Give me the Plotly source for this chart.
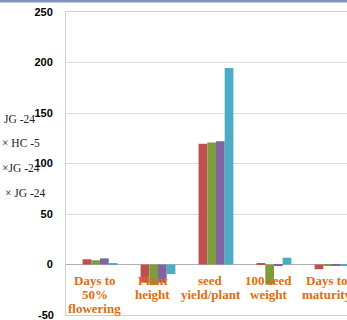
import plotly.graph_objects as go

# Trait categories (one label line per list entry)
categories = ["Days to 50% flowering", "Plant height", "seed yield/plant",
              "100 seed weight", "Days to maturity"]
category_lines = [["Days to", "50%", "flowering"], ["Plant", "height"],
                  ["seed", "yield/plant"], ["100 seed", "weight"],
                  ["Days to", "maturity"]]

# Cross labels (partly visible legend entries)
series_names = ["JG -24", "× HC -5", "×JG -24", "× JG -24"]

# Heterosis values (%) per cross
s1 = [5.2, -18.0, 119.5, 1.5, -4.7]
s2 = [4.2, -20.0, 120.8, -20.0, -0.8]
s3 = [6.1, -18.0, 122.0, -0.8, -0.8]
s4 = [1.0, -9.5, 194.5, 6.7, -0.8]
series_values = [s1, s2, s3, s4]
series_colors = ["#C0504D", "#7F9B3E", "#8064A2", "#4BACC6"]

y_ticks = [-50, 0, 50, 100, 150, 200, 250]
y_min, y_max = -50, 250

fig = go.Figure()
xs = list(range(len(categories)))
for name, vals, col in zip(series_names, series_values, series_colors):
    fig.add_trace(go.Bar(x=xs, y=vals, name=name, marker_color=col,
                         marker_line_width=0, showlegend=False))

# Category labels drawn next to the zero line
label_font = dict(family="Liberation Serif", size=13, color="#E46C0A",
                  weight="bold")
for i, lines in enumerate(category_lines):
    for j, line in enumerate(lines):
        fig.add_annotation(x=i, y=0, xref="x", yref="y", text=line,
                           showarrow=False, yanchor="top", xanchor="center",
                           xshift=-5, yshift=-6 - 14.3 * j, font=label_font)

# Legend text fragments on the left
legend_pos = [(2, 119), (0, 143), (0, 168), (3, 193)]
for name, (px, py) in zip(series_names, legend_pos):
    fig.add_annotation(x=(px - 66) / 281, y=1 - (py - 12) / 303,
                       xref="paper", yref="paper", text=name,
                       showarrow=False, xanchor="left", yanchor="middle",
                       font=dict(family="Liberation Serif", size=11.5,
                                 color="#222222"))

# Lowest tick value sits on the page edge, so it is written as a label
tick_font = dict(family="Liberation Sans", size=11, color="black",
                 weight="bold")
fig.add_annotation(x=0, y=y_min, xref="paper", yref="y", text=str(y_min),
                   showarrow=False, xanchor="right", yanchor="middle",
                   xshift=-10, font=tick_font)

# Thin band along the top edge
fig.add_shape(type="rect", xref="paper", yref="paper",
              x0=-66 / 281, x1=1.0, y0=1 + 9.5 / 303, y1=1 + 12.5 / 303,
              line_width=0, fillcolor="#7F95B8", layer="above")

fig.update_layout(
    width=347, height=320,
    margin=dict(l=66, r=0, t=12, b=5),
    paper_bgcolor="white", plot_bgcolor="white",
    barmode="group", bargap=0.4, bargroupgap=0.0,
    xaxis=dict(range=[-0.586, 4.259], showticklabels=False, ticks="",
               showgrid=False, zeroline=False, showline=True,
               linecolor="#D0D0D0", linewidth=1, mirror=True),
    yaxis=dict(range=[y_min, y_max], tickvals=y_ticks, showgrid=True,
               gridcolor="#D9D9D9", gridwidth=1, zeroline=True,
               zerolinecolor="#B0B0B0", zerolinewidth=1, showline=True,
               linecolor="#D0D0D0", linewidth=1, ticks="", ticklabelstandoff=10,
               tickfont=tick_font),
)

fig.write_html("out.html")
